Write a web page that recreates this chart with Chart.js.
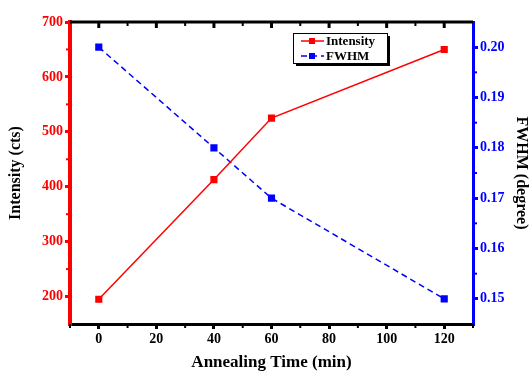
<!DOCTYPE html>
<html>
<head>
<meta charset="utf-8">
<script src="https://cdn.jsdelivr.net/npm/chart.js@4"></script>
<style>
  html, body { margin: 0; padding: 0; background: #fff; }
  #wrap { width: 529px; height: 372px; }
</style>
</head>
<body>
<div id="wrap"><canvas id="chart" width="529" height="372"></canvas></div>
<script>
// data
const timeMin = [0, 40, 60, 120];
const intensity = [195, 413, 525, 650];
const fwhm = [0.200, 0.180, 0.170, 0.150];

// tick labels
const xTicks = [0, 20, 40, 60, 80, 100, 120];
const leftTicks = [200, 300, 400, 500, 600, 700];
const rightTicks = [0.15, 0.16, 0.17, 0.18, 0.19, 0.20];
const xMinor = [-10, 10, 30, 50, 70, 90, 110, 130];
const leftMinor = [250, 350, 450, 550, 650];
const rightMinor = [0.155, 0.165, 0.175, 0.185, 0.195];

const FONT = '"Liberation Serif", "Times New Roman", serif';

// frame, minor ticks and boxed legend
const extras = {
    id: 'extras',
    afterDraw(chart) {
        const c = chart.ctx;
        const a = chart.chartArea;
        const xs = chart.scales.x, yl = chart.scales.y, yr = chart.scales.y1;
        c.save();
        // top border with inward ticks
        c.strokeStyle = '#000';
        c.lineWidth = 3;
        c.beginPath();
        c.moveTo(a.left, a.top);
        c.lineTo(a.right, a.top);
        c.stroke();
        xTicks.concat(xMinor).forEach(v => {
            const px = xs.getPixelForValue(v);
            if (px <= a.left + 2 || px >= a.right - 2) return;
            const len = xTicks.includes(v) ? 6 : 4;
            c.lineWidth = xTicks.includes(v) ? 3 : 2;
            c.beginPath();
            c.moveTo(px, a.top);
            c.lineTo(px, a.top + len);
            c.stroke();
        });
        // bottom minor ticks
        c.lineWidth = 2;
        xMinor.forEach(v => {
            const px = xs.getPixelForValue(v);
            c.beginPath();
            c.moveTo(px, a.bottom);
            c.lineTo(px, a.bottom + 4);
            c.stroke();
        });
        // left minor ticks
        c.strokeStyle = '#ff0000';
        leftMinor.forEach(v => {
            const py = yl.getPixelForValue(v);
            c.beginPath();
            c.moveTo(a.left - 4, py);
            c.lineTo(a.left, py);
            c.stroke();
        });
        // right minor ticks
        c.strokeStyle = '#0000ff';
        rightMinor.forEach(v => {
            const py = yr.getPixelForValue(v);
            c.beginPath();
            c.moveTo(a.right, py);
            c.lineTo(a.right + 4, py);
            c.stroke();
        });

        // legend box
        const bx = 293, by = 33, bw = 94, bh = 30;
        c.fillStyle = '#000';
        c.fillRect(bx + 3, by + 3, bw, bh);
        c.fillStyle = '#fff';
        c.fillRect(bx, by, bw, bh);
        c.strokeStyle = '#000';
        c.lineWidth = 1;
        c.strokeRect(bx + 0.5, by + 0.5, bw, bh);
        chart.data.datasets.forEach((ds, i) => {
            const ly = by + 8 + i * 15;
            c.strokeStyle = ds.borderColor;
            c.lineWidth = 1.5;
            c.setLineDash(ds.borderDash || []);
            c.beginPath();
            c.moveTo(bx + 8, ly);
            c.lineTo(bx + 31, ly);
            c.stroke();
            c.setLineDash([]);
            c.fillStyle = ds.borderColor;
            c.fillRect(bx + 16, ly - 3, 6, 6);
            c.fillStyle = '#000';
            c.font = 'bold 13px ' + FONT;
            c.textBaseline = 'middle';
            c.fillText(ds.label, bx + 33, ly + 1);
        });
        c.restore();
    }
};

new Chart(document.getElementById('chart'), {
    type: 'line',
    data: {
        datasets: [{
            label: 'Intensity',
            data: timeMin.map((t, i) => ({ x: t, y: intensity[i] })),
            borderColor: '#ff0000',
            backgroundColor: '#ff0000',
            borderWidth: 1.5,
            pointStyle: 'rect',
            pointRadius: 4,
            yAxisID: 'y'
        }, {
            label: 'FWHM',
            data: timeMin.map((t, i) => ({ x: t, y: fwhm[i] })),
            borderColor: '#0000ff',
            backgroundColor: '#0000ff',
            borderWidth: 1.5,
            borderDash: [6, 4],
            pointStyle: 'rect',
            pointRadius: 4,
            yAxisID: 'y1'
        }]
    },
    options: {
        responsive: false,
        animation: false,
        layout: { padding: { top: 22 } },
        plugins: { legend: { display: false }, tooltip: { enabled: false } },
        scales: {
            x: {
                type: 'linear',
                min: -10, max: 130,
                afterBuildTicks: s => { s.ticks = xTicks.map(v => ({ value: v })); },
                afterFit: s => { s.height = 48; },
                border: { color: '#000', width: 3 },
                grid: { drawOnChartArea: false, tickLength: 5, tickColor: '#000', lineWidth: 3 },
                ticks: { color: '#000', padding: 2, maxRotation: 0, font: { family: FONT, size: 14, weight: 'bold' } },
                title: { display: true, text: 'Annealing Time (min)', color: '#000', padding: { top: 0, bottom: 1 },
                         font: { family: FONT, size: 17, weight: 'bold', lineHeight: 1 } }
            },
            y: {
                position: 'left',
                min: 150, max: 700,
                afterBuildTicks: s => { s.ticks = leftTicks.map(v => ({ value: v })); },
                afterFit: s => { s.width = 70; },
                border: { color: '#ff0000', width: 4 },
                grid: { drawOnChartArea: false, tickLength: 5, tickColor: '#ff0000', lineWidth: 3 },
                ticks: { color: '#ff0000', padding: 2, font: { family: FONT, size: 14, weight: 'bold' } },
                title: { display: true, text: 'Intensity (cts)', color: '#000', padding: { top: 6, bottom: 0 },
                         font: { family: FONT, size: 16, weight: 'bold' } }
            },
            y1: {
                position: 'right',
                min: 0.145, max: 0.205,
                afterBuildTicks: s => { s.ticks = rightTicks.map(v => ({ value: v })); },
                afterFit: s => { s.width = 56; },
                border: { color: '#0000ff', width: 3 },
                grid: { drawOnChartArea: false, tickLength: 5, tickColor: '#0000ff', lineWidth: 3 },
                ticks: { color: '#0000ff', padding: 2, callback: v => v.toFixed(2),
                         font: { family: FONT, size: 14, weight: 'bold' } },
                title: { display: true, text: 'FWHM (degree)', color: '#000', padding: { top: 0, bottom: 0 },
                         font: { family: FONT, size: 16, weight: 'bold', lineHeight: 1 } }
            }
        }
    },
    plugins: [extras]
});
</script>
</body>
</html>
